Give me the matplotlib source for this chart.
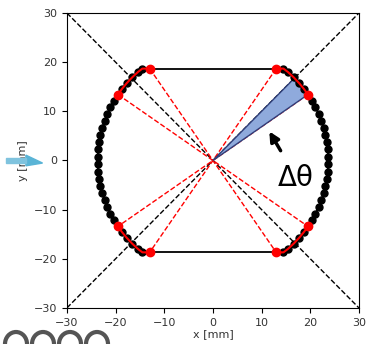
import numpy as np
import matplotlib.pyplot as plt
from matplotlib.patches import Polygon, Ellipse

# geometry of the outline (mm)
radius = 23.7
flat_y = 18.7
# dot positions along the right arc, degrees from +x axis
dot_angles = [52.3, 49.5, 45.5, 41.5, 38.0, 34.5, 30.9, 27.3, 23.7, 20.0, 16.4,
              12.7, 9.1, 5.5, 1.8, -1.8, -5.5, -9.1, -12.7, -16.4, -20.0,
              -23.7, -27.3, -30.9, -34.5, -38.0, -41.5, -45.5, -49.5, -52.3]
# red end points of the sampled segment
red_pts = [(13.0, 18.7), (19.5, 13.4)]
# angle of the wedge edge and the wedge end point
wedge_angle = 45.0
wedge_r = 23.3

ang = np.radians(dot_angles)
xr = radius * np.cos(ang)
yr = np.clip(radius * np.sin(ang), -flat_y, flat_y)

fig = plt.figure(figsize=(3.7, 3.44), dpi=100)
ax = fig.add_axes([0.181, 0.105, 0.789, 0.857])

# diagonals
ax.plot([-30, 30], [-30, 30], 'k--', lw=1)
ax.plot([-30, 30], [30, -30], 'k--', lw=1)

# red dashed lines through the origin
for sx in (1, -1):
    for px, py in red_pts:
        ax.plot([sx * px, -sx * px], [py, -py], 'r--', lw=1)

# wedge for delta theta
wx = wedge_r * np.cos(np.radians(wedge_angle))
wy = wedge_r * np.sin(np.radians(wedge_angle))
wedge = Polygon([(0, 0), (wx, wy), red_pts[1]], closed=True,
                facecolor='#8faadc', edgecolor='#2f3f7a', lw=1, zorder=3)
ax.add_patch(wedge)

# outline with sampled points
ax.plot([-red_pts[0][0], red_pts[0][0]], [flat_y, flat_y], 'k-', lw=1.3, zorder=4)
ax.plot([-red_pts[0][0], red_pts[0][0]], [-flat_y, -flat_y], 'k-', lw=1.3, zorder=4)
for sx in (1, -1):
    xs = np.concatenate([[sx * red_pts[0][0]], sx * xr, [sx * red_pts[0][0]]])
    ys = np.concatenate([[flat_y], yr, [-flat_y]])
    ax.plot(xs, ys, 'k-', lw=1.3, zorder=4)
    ax.plot(sx * xr, yr, 'ko', ms=5, zorder=5)

# red sampled segments at the four corners
seg = [i for i, a in enumerate(dot_angles) if a >= 34.5]
for sx in (1, -1):
    for sy in (1, -1):
        xs = np.concatenate([[red_pts[0][0]], xr[seg]]) * sx
        ys = np.concatenate([[flat_y], yr[seg]]) * sy
        ax.plot(xs, ys, 'r-', lw=1.5, zorder=6)
        ax.plot([sx * p[0] for p in red_pts], [sy * p[1] for p in red_pts],
                'o', color='red', ms=6, zorder=7)

ax.annotate('', xy=(11.3, 6.4), xytext=(14.2, 1.5),
            arrowprops=dict(arrowstyle='-|>', color='k', lw=2.5,
                            mutation_scale=14), zorder=8)
ax.text(17.0, -3.6, 'Δθ', fontsize=20, ha='center', va='center', zorder=8)

ax.set_xlim(-30, 30)
ax.set_ylim(-30, 30)
ticks = [-30, -20, -10, 0, 10, 20, 30]
ax.set_xticks(ticks)
ax.set_yticks(ticks)
ax.tick_params(labelsize=8, labelcolor='#333333')
ax.set_xlabel('x [mm]', fontsize=8, color='#333333', labelpad=1)
ax.set_ylabel('y [mm]', fontsize=8, color='#333333', labelpad=4)

# slide pointer on the left
fig.patches.append(plt.Polygon([(0.07, 0.518), (0.115, 0.526), (0.07, 0.549)],
                               closed=True, transform=fig.transFigure,
                               color='#5ab4d6'))
fig.patches.append(plt.Rectangle((0.015, 0.527), 0.055, 0.013,
                                 transform=fig.transFigure, color='#7fc3de'))

# rings peeking in at the bottom edge
for cx in (16, 43, 70, 97):
    fig.patches.append(Ellipse((cx, 0), 22, 24, transform=None, fill=False,
                               edgecolor='#555555', lw=3))

fig.savefig('out.png', dpi=100)
